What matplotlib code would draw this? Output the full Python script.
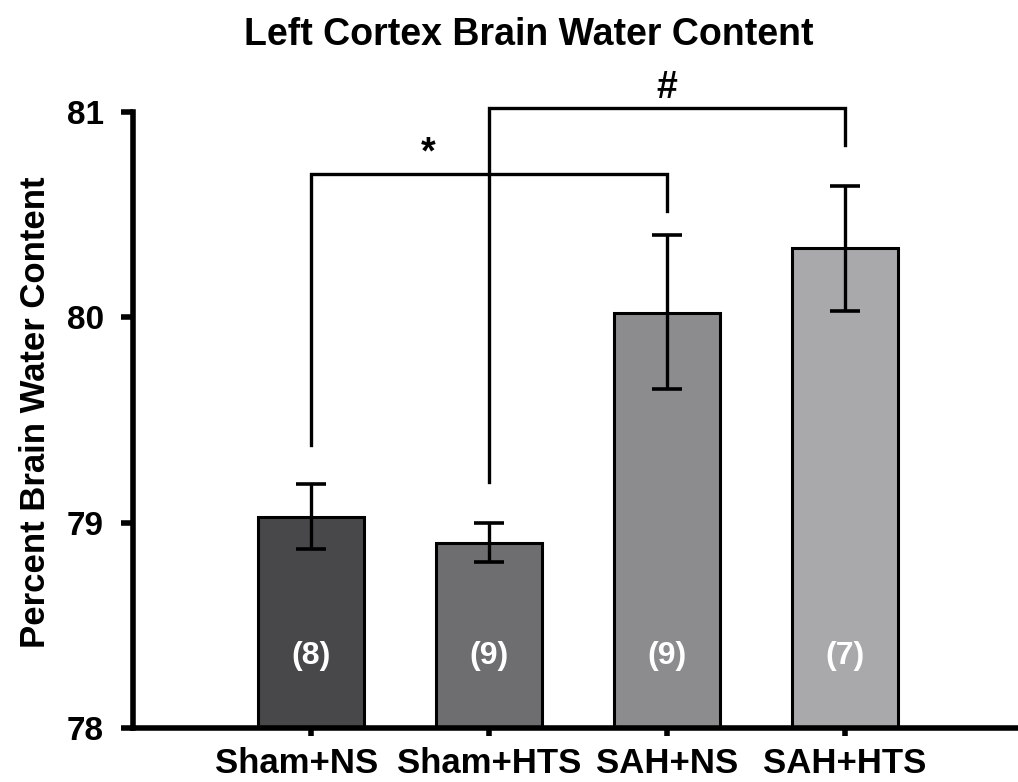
import matplotlib
matplotlib.use("Agg")
import matplotlib.pyplot as plt
import matplotlib.transforms as mtransforms

plt.rcParams['font.family'] = ['Liberation Sans', 'DejaVu Sans']
plt.rcParams['font.weight'] = 'bold'

categories = ["Sham+NS", "Sham+HTS", "SAH+NS", "SAH+HTS"]
means = [79.03, 78.90, 80.02, 80.34]
err_hi = [79.19, 79.00, 80.40, 80.64]
err_lo = [78.87, 78.81, 79.65, 80.03]
n_labels = ["(8)", "(9)", "(9)", "(7)"]
colors = ["#48484a", "#6e6e70", "#8c8c8e", "#a9a9ab"]
yticks = [78, 79, 80, 81]

# significance brackets: (left idx, right idx, level, left leg bottom, right leg bottom, symbol)
brackets = [
    (0, 2, 80.70, 79.38, 80.52, "*"),
    (1, 3, 81.02, 79.20, 80.84, "#"),
]

fig = plt.figure(figsize=(10.18, 7.82), dpi=100)
ax = fig.add_axes([133/1018, 54/782, (1018-133)/1018, (728-112)/782])

x = list(range(len(categories)))
lower = [m - l for m, l in zip(means, err_lo)]
upper = [h - m for m, h in zip(means, err_hi)]
ax.bar(x, [m - 78 for m in means], bottom=78, width=0.6, color=colors,
       edgecolor="black", linewidth=2.2, zorder=2)
ax.errorbar(x, means, yerr=[lower, upper], fmt="none", ecolor="black",
            elinewidth=2.4, capsize=11, capthick=2.6, zorder=3)

for xi, lab in zip(x, n_labels):
    ax.text(xi, 78.35, lab, ha="center", va="center", color="white",
            fontsize=23, fontweight="bold", zorder=4)

for li, ri, lev, lb, rb, sym in brackets:
    ax.plot([li, li, ri, ri], [lb, lev, lev, rb], color="black", lw=2.4,
            clip_on=False, zorder=5, solid_joinstyle="miter")
    ax.text((li + ri) / 2 if sym == "#" else li + 0.66, lev + 0.01, sym,
            ha="center", va="bottom", fontsize=27, fontweight="bold")

ax.set_ylim(78, 81)
ax.set_xlim(-1, -1 + (1018 - 133) / 178)
ax.set_yticks(yticks)
ax.set_yticklabels([str(t) for t in yticks], fontsize=24, fontweight="bold")
ax.set_xticks(x)
ax.set_xticklabels(categories, fontsize=25, fontweight="bold")
ax.tick_params(axis="y", length=9, width=4, pad=12)
ax.tick_params(axis="x", length=6, width=4, pad=8)
# nudge the first category label slightly left, as in the reference
lbl0 = ax.get_xticklabels()[0]
lbl0.set_transform(lbl0.get_transform() + mtransforms.ScaledTranslation(-14/100, 0, fig.dpi_scale_trans))
for s in ["top", "right"]:
    ax.spines[s].set_visible(False)
for s in ["left", "bottom"]:
    ax.spines[s].set_linewidth(4)
ax.set_ylabel("Percent Brain Water Content", fontsize=25, fontweight="bold")
ax.yaxis.set_label_coords((52 - 133) / 885, (728 - 412) / 616)

fig.text(529/1018, 1 - 35/782, "Left Cortex Brain Water Content", ha="center",
         va="center", fontsize=27, fontweight="bold")

fig.savefig("out.png", dpi=100)
